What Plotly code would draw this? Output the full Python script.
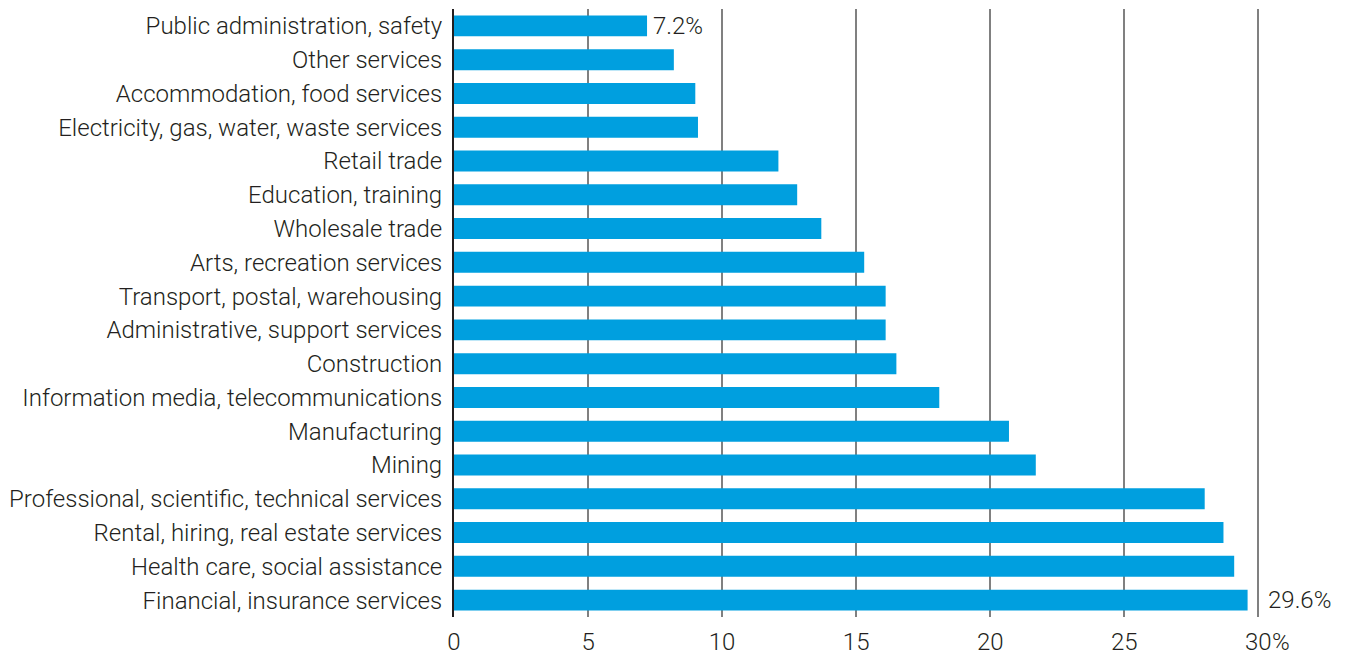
import plotly.graph_objects as go

industries = [
    "Public administration, safety",
    "Other services",
    "Accommodation, food services",
    "Electricity, gas, water, waste services",
    "Retail trade",
    "Education, training",
    "Wholesale trade",
    "Arts, recreation services",
    "Transport, postal, warehousing",
    "Administrative, support services",
    "Construction",
    "Information media, telecommunications",
    "Manufacturing",
    "Mining",
    "Professional, scientific, technical services",
    "Rental, hiring, real estate services",
    "Health care, social assistance",
    "Financial, insurance services",
]
shares = [7.2, 8.2, 9.0, 9.1, 12.1, 12.8, 13.7, 15.3, 16.1, 16.1,
          16.5, 18.1, 20.7, 21.7, 28.0, 28.7, 29.1, 29.6]

tick_values = [0, 5, 10, 15, 20, 25, 30]
tick_labels = ["0", "5", "10", "15", "20", "25", "30"]

FONT = dict(family="Roboto, Arial, sans-serif", size=24, color="#231f20", weight=300)
BAR = "#009FDF"
GRID = "#808080"

fig = go.Figure(
    go.Bar(
        x=shares,
        y=industries,
        orientation="h",
        marker=dict(color=BAR, line=dict(width=0)),
        hoverinfo="x+y",
    )
)

# value callouts on the first and last bars
fig.add_annotation(x=shares[0], y=industries[0], text=f"{shares[0]:.1f}%",
                   showarrow=False, xanchor="left", xshift=4, font=FONT)
fig.add_annotation(x=tick_values[-1], y=industries[-1], text=f"{shares[-1]:.1f}%",
                   showarrow=False, xanchor="left", xshift=8, font=FONT)
# percent sign trailing the last tick label
fig.add_annotation(x=tick_values[-1], y=0, yref="paper", text="%",
                   showarrow=False, xanchor="left", yanchor="middle",
                   xshift=12, yshift=-25, font=FONT)

fig.update_layout(
    width=1348,
    height=657,
    margin=dict(l=454, r=87, t=9, b=40),
    paper_bgcolor="white",
    plot_bgcolor="white",
    bargap=0.38,
    showlegend=False,
    font=FONT,
    xaxis=dict(
        range=[0, 30.1],
        tickvals=tick_values,
        ticktext=tick_labels,
        showgrid=True,
        gridcolor=GRID,
        gridwidth=2,
        zeroline=False,
        showline=False,
        ticks="",
        ticklabelstandoff=8,
        tickfont=FONT,
        automargin=False,
    ),
    yaxis=dict(
        autorange="reversed",
        showline=True,
        linecolor="#231f20",
        linewidth=2,
        showgrid=False,
        ticks="",
        ticklabelstandoff=5,
        tickfont=FONT,
        automargin=False,
    ),
)

fig.write_html("out.html")
